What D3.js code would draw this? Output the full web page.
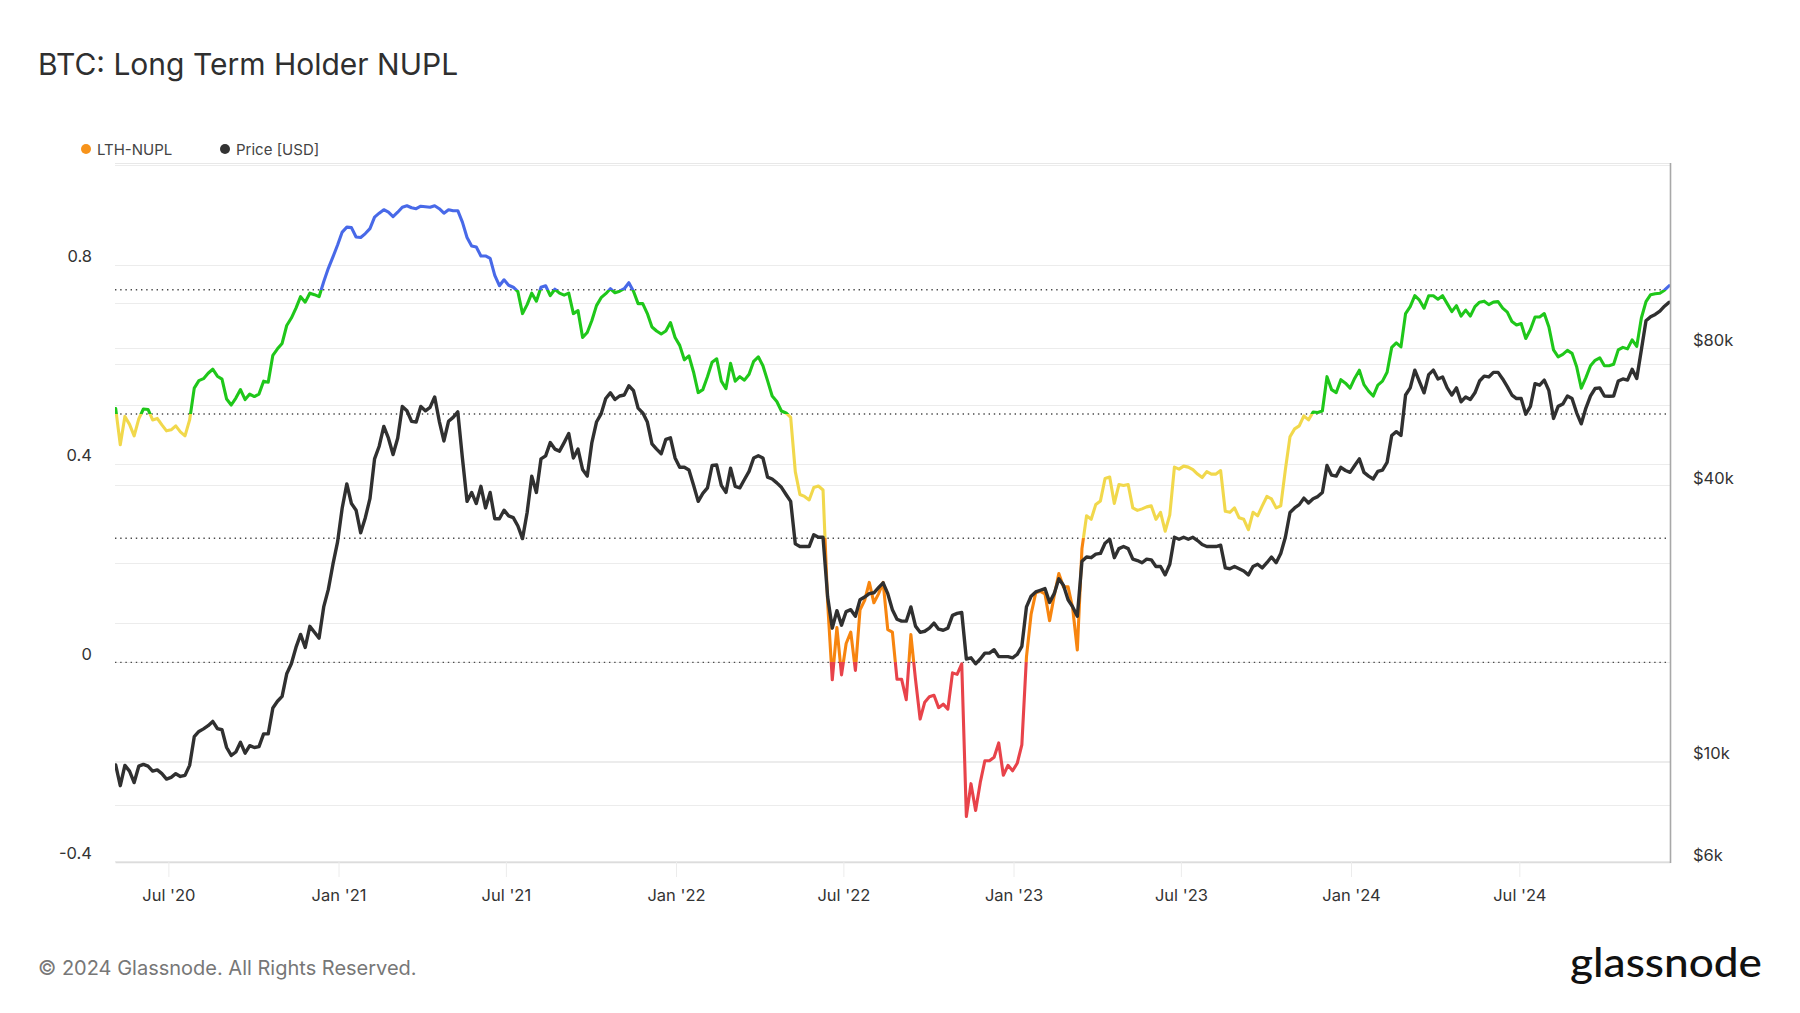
<!DOCTYPE html>
<html><head><meta charset="utf-8">
<script src="https://cdn.jsdelivr.net/npm/d3@7"></script>
<style>
html,body{margin:0;padding:0;background:#fff;}
svg{display:block;font-family:Inter,"Noto Sans",sans-serif;}
</style></head><body>
<svg id="chart" width="1800" height="1013"></svg>
<script>
// ---------- data (one sample every 5 days) ----------
const startDate = "2020-05-05";
const stepDays = 5;

const lthNupl = [
0.511,0.438,0.495,0.479,0.456,0.490,0.510,0.509,0.488,0.491,
0.478,0.466,0.468,0.476,0.464,0.456,0.488,0.552,0.567,0.571,
0.582,0.590,0.576,0.570,0.530,0.518,0.532,0.549,0.529,0.540,
0.535,0.540,0.566,0.564,0.618,0.631,0.642,0.678,0.693,0.713,
0.736,0.725,0.743,0.740,0.736,0.766,0.793,0.816,0.840,0.866,
0.876,0.875,0.856,0.855,0.863,0.873,0.896,0.904,0.911,0.906,
0.897,0.906,0.916,0.919,0.915,0.913,0.918,0.917,0.916,0.919,
0.913,0.904,0.911,0.909,0.909,0.886,0.855,0.838,0.836,0.818,
0.818,0.813,0.779,0.758,
0.770,0.759,0.755,0.746,0.702,0.720,0.743,0.727,0.755,0.758,
0.738,0.751,0.743,0.739,0.743,0.702,0.708,0.654,0.664,0.688,
0.718,0.734,0.742,0.752,0.744,0.747,0.752,0.764,0.747,0.722,
0.722,0.702,0.675,0.667,0.661,0.667,0.684,0.654,0.638,0.609,
0.617,0.584,0.543,0.549,0.575,0.604,0.611,0.566,0.551,0.602,
0.566,0.575,0.568,0.580,0.606,0.615,0.597,0.567,0.536,0.525,
0.506,0.502,0.493,0.384,0.338,0.334,0.327,0.352,0.355,0.347,
0.120,-0.035,0.070,-0.025,0.038,0.061,-0.016,0.106,0.125,0.161,
0.120,0.138,0.161,0.066,
0.061,-0.034,-0.034,-0.075,0.056,-0.034,-0.114,-0.080,-0.069,-0.066,
-0.091,-0.084,-0.094,-0.021,-0.024,-0.003,-0.310,-0.244,-0.298,-0.242,
-0.198,-0.198,-0.191,-0.162,-0.227,-0.207,-0.218,-0.203,-0.166,0.011,
0.097,0.140,0.143,0.138,0.084,0.134,0.179,0.152,0.152,0.109,
0.025,0.229,0.295,0.288,0.318,0.325,0.370,0.373,0.320,0.358,
0.356,0.358,0.311,0.306,0.309,0.313,0.315,0.288,0.302,0.264,
0.297,0.393,0.389,0.395,0.393,0.388,0.379,0.372,0.384,0.379,
0.379,0.386,0.304,0.302,0.311,0.291,0.288,0.267,0.302,0.295,
0.315,0.334,0.329,0.311,
0.315,0.388,0.454,0.470,0.476,0.496,0.488,0.504,0.503,0.506,
0.575,0.549,0.543,0.569,0.562,0.552,0.572,0.588,0.559,0.546,
0.536,0.558,0.566,0.584,0.634,0.643,0.635,0.702,0.716,0.738,
0.729,0.713,0.738,0.738,0.731,0.738,0.722,0.706,0.718,0.697,
0.709,0.697,0.716,0.725,0.727,0.720,0.725,0.726,0.713,0.705,
0.686,0.679,0.682,0.652,0.670,0.695,0.695,0.702,0.675,0.629,
0.615,0.620,0.628,0.622,0.595,0.552,0.573,0.597,0.608,0.613,
0.597,0.597,0.600,0.629,0.634,0.631,0.649,0.636,0.693,0.726,
0.740,0.742,0.743,0.749,0.758
];

const priceUsd = [
9800,8830,9780,9500,8970,9740,9830,9740,9500,9560,
9380,9130,9210,9380,9250,9300,9780,11300,11600,11750,
11940,12200,11770,11700,10700,10280,10460,10980,10400,10800,
10700,10750,11460,11460,13050,13500,13840,15500,16300,17700,
18900,17700,19680,19100,18550,21700,23700,26900,30100,35700,
40300,36500,35300,31500,34000,37400,45700,48700,53800,50700,
46700,50700,59500,58200,55200,55000,59500,58200,59200,62400,
55200,50000,55200,56300,57900,45900,36900,38600,36500,39800,
35700,38600,33800,33800,
35300,34300,34000,32600,30600,34900,41900,38600,45700,46400,
49600,48000,47500,49600,51900,45900,48000,43300,41900,49600,
55000,57300,61900,63700,61600,62700,63000,66000,64400,59000,
57600,55000,49300,48000,46900,50400,50800,45900,43800,43800,
43200,40000,36900,38400,39500,44200,44300,40000,38600,43600,
39800,39500,41200,42900,45900,46400,45900,41700,41300,40500,
39600,38200,36900,29800,29400,29400,29400,31200,30800,30800,
22800,19500,21300,19800,21200,21400,20700,22500,22800,23200,
23300,23900,24500,23200,
21400,20400,20200,20200,21700,19700,19100,19200,19500,20000,
19400,19300,19500,20800,21000,21100,16700,16800,16300,16700,
17200,17200,17500,16900,16900,16900,16800,17100,17800,21700,
22900,23400,23600,23800,22200,23200,25000,24200,22500,21700,
20700,27300,27900,27800,28300,28400,29900,30500,27800,29100,
29400,29100,27600,27400,27100,27600,27500,26600,26600,25500,
26900,30800,30500,30800,30500,30800,30300,29700,29400,29400,
29400,29600,26400,26300,26600,26300,26000,25500,26600,26900,
26400,27100,27900,27100,
28400,30800,34900,35700,36300,37500,36600,37400,37800,38600,
44200,42100,41900,43800,43100,42700,44200,45700,42700,41900,
41300,42900,43200,44900,51400,52400,51400,63000,65300,71400,
67400,63700,69800,71400,68300,69000,65300,63000,65300,60900,
62400,61600,63700,67600,69300,69000,70600,70600,68300,65700,
63000,61900,61900,57200,59500,66700,66200,67900,64400,56000,
59500,60200,62700,61900,57600,54500,59000,62700,65100,65300,
62700,62600,62700,67600,68300,67900,71700,68500,79100,91500,
93400,94500,96100,98500,100500
];

const leftTickValues = [-0.4, 0, 0.4, 0.8];
const leftTickLabels = ["-0.4", "0", "0.4", "0.8"];
const leftGridValues = [-0.4, -0.2, 0, 0.2, 0.4, 0.6, 0.8, 1.0];
const rightTickValues = [6000, 10000, 40000, 80000];
const rightTickLabels = ["$6k", "$10k", "$40k", "$80k"];
const rightGridValues = [8000, 10000, 20000, 40000, 60000, 80000, 100000];
const nuplThresholds = [0, 0.25, 0.5, 0.75];
const zoneColors = ["#e8434a", "#f7850f", "#f1d84c", "#1fc71a", "#4869e8"]; // <0, 0-.25, .25-.5, .5-.75, >.75
const seriesNames = ["LTH-NUPL", "Price [USD]"];

// ---------- layout ----------
const P = {left: 115, right: 1670, top: 163, bottom: 862};
const svg = d3.select("#chart");

const t0 = new Date(startDate + "T00:00:00Z");
const dates = lthNupl.map((_, i) => d3.utcDay.offset(t0, i * stepDays));
const nuplData = lthNupl.map((v, i) => ({date: dates[i], v}));
const priceData = priceUsd.map((p, i) => ({date: dates[i], p}));

const x = d3.scaleUtc()
  .domain([new Date("2020-05-04T07:00:00Z"), new Date("2024-12-10T23:00:00Z")])
  .range([P.left, P.right]);
const yL = d3.scaleLinear().domain([-0.4, 1.005]).range([861.2, P.top]);
const yR = d3.scaleLog().domain([6000, 202400]).range([862.5, P.top]);

// title
svg.append("text").attr("x", 38).attr("y", 75)
  .attr("font-size", 30).attr("fill", "#2f2f2f").text("BTC: Long Term Holder NUPL");

// legend
const lg = svg.append("g").attr("font-size", 15).attr("fill", "#444");
lg.append("circle").attr("cx", 86).attr("cy", 149).attr("r", 5).attr("fill", "#f7931a");
lg.append("text").attr("x", 97).attr("y", 154.5).text(seriesNames[0]);
lg.append("circle").attr("cx", 225).attr("cy", 149).attr("r", 5).attr("fill", "#333");
lg.append("text").attr("x", 236).attr("y", 154.5).text(seriesNames[1]);

// grid
const grid = svg.append("g");
grid.selectAll("line.gl").data(leftGridValues).join("line")
  .attr("x1", P.left).attr("x2", P.right)
  .attr("y1", d => Math.round(yL(d)) + 0.5).attr("y2", d => Math.round(yL(d)) + 0.5)
  .attr("stroke", "#ececec").attr("stroke-width", 1);
grid.selectAll("line.gr").data(rightGridValues).join("line")
  .attr("x1", P.left).attr("x2", P.right)
  .attr("y1", d => Math.round(yR(d)) + 0.5).attr("y2", d => Math.round(yR(d)) + 0.5)
  .attr("stroke", "#ececec").attr("stroke-width", 1);
grid.append("line").attr("x1", P.left).attr("x2", P.right).attr("y1", P.top + 0.5).attr("y2", P.top + 0.5)
  .attr("stroke", "#e8e8e8");

// dotted threshold lines
svg.append("g").selectAll("line").data(nuplThresholds).join("line")
  .attr("x1", P.left).attr("x2", P.right - 4)
  .attr("y1", d => yL(d)).attr("y2", d => yL(d))
  .attr("stroke", "#4a4a4a").attr("stroke-width", 1.4).attr("stroke-dasharray", "1.4,3.8");

// x axis
const xAxis = d3.axisBottom(x).ticks(d3.utcMonth.every(6))
  .tickFormat(d3.utcFormat("%b '%y")).tickSize(15).tickSizeOuter(0).tickPadding(0);
const gx = svg.append("g").attr("transform", `translate(0,${P.bottom})`).call(xAxis);
gx.select(".domain").attr("stroke", "#dcdcdc").attr("stroke-width", 1.5);
gx.selectAll(".tick line").attr("stroke", "#ececec");
gx.selectAll(".tick text").attr("font-family", "Inter").attr("font-size", 16.5).attr("fill", "#333")
  .attr("y", 39).attr("dy", null);

// left axis
const gl = svg.append("g").attr("transform", `translate(${P.left},0)`)
  .call(d3.axisLeft(yL).tickValues(leftTickValues).tickSize(0).tickPadding(23)
    .tickFormat((d, i) => leftTickLabels[i]));
gl.select(".domain").remove();
gl.selectAll(".tick text").attr("font-family", "Inter").attr("font-size", 16.5).attr("fill", "#333")
  .attr("dy", null).attr("y", -3);

// right axis
const gr = svg.append("g").attr("transform", `translate(${P.right},0)`)
  .call(d3.axisRight(yR).tickValues(rightTickValues).tickSize(0).tickPadding(23)
    .tickFormat((d, i) => rightTickLabels[i]));
gr.select(".domain").remove();
gr.selectAll(".tick text").attr("font-family", "Inter").attr("font-size", 16.5).attr("fill", "#333")
  .attr("dy", null).attr("y", -2);

// clip + gradient
const defs = svg.append("defs");
defs.append("clipPath").attr("id", "plotClip").append("rect")
  .attr("x", P.left).attr("y", P.top - 3).attr("width", P.right - P.left).attr("height", P.bottom - P.top + 3);
const gy1 = yL.range()[1], gy2 = yL.range()[0];
const grad = defs.append("linearGradient").attr("id", "nuplGrad")
  .attr("gradientUnits", "userSpaceOnUse").attr("x1", 0).attr("x2", 0).attr("y1", gy1).attr("y2", gy2);
const bounds = [yL.domain()[1], ...nuplThresholds.slice().reverse(), yL.domain()[0]]; // top -> bottom
const colsTopDown = zoneColors.slice().reverse();
colsTopDown.forEach((c, i) => {
  const o1 = (yL(bounds[i]) - gy1) / (gy2 - gy1);
  const o2 = (yL(bounds[i + 1]) - gy1) / (gy2 - gy1);
  grad.append("stop").attr("offset", o1).attr("stop-color", c);
  grad.append("stop").attr("offset", o2).attr("stop-color", c);
});

const plot = svg.append("g").attr("clip-path", "url(#plotClip)");
plot.append("path").datum(nuplData)
  .attr("d", d3.line().x(d => x(d.date)).y(d => yL(d.v)))
  .attr("fill", "none").attr("stroke", "url(#nuplGrad)").attr("stroke-width", 3.1)
  .attr("stroke-linejoin", "round").attr("stroke-linecap", "round");
plot.append("path").datum(priceData)
  .attr("d", d3.line().x(d => x(d.date)).y(d => yR(d.p)))
  .attr("fill", "none").attr("stroke", "#303030").attr("stroke-width", 3.4)
  .attr("stroke-linejoin", "round").attr("stroke-linecap", "round");

// right frame line
svg.append("line").attr("x1", P.right + 0.5).attr("x2", P.right + 0.5).attr("y1", P.top).attr("y2", P.bottom + 1)
  .attr("stroke", "#a8a8a8").attr("stroke-width", 1.6);

// footer
svg.append("text").attr("x", 38).attr("y", 975).attr("font-size", 20).attr("fill", "#777")
  .text("© 2024 Glassnode. All Rights Reserved.");
svg.append("text").attr("x", 1570).attr("y", 977).attr("font-family", "Lato, Inter, sans-serif")
  .attr("font-size", 41).attr("font-weight", 500).attr("fill", "#111")
  .attr("textLength", 192).attr("lengthAdjust", "spacingAndGlyphs").text("glassnode");
</script>
</body></html>
